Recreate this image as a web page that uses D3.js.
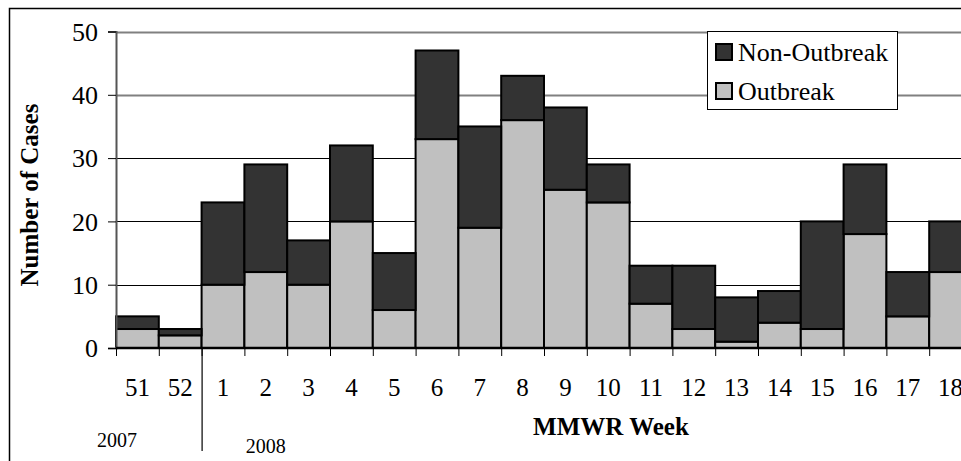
<!DOCTYPE html>
<html><head><meta charset="utf-8">
<script src="https://cdn.jsdelivr.net/npm/d3@7"></script>
<style>body{margin:0;background:#fff}svg{display:block}</style>
</head><body>
<svg id="c" width="961" height="461" font-family="Liberation Serif, Times New Roman, serif"></svg>
<script>
const weeks = ["51","52","1","2","3","4","5","6","7","8","9","10","11","12","13","14","15","16","17","18"];
const outbreak =    [3,2,10,12,10,20,6,33,19,36,25,23,7,3,1,4,3,18,5,12];
const nonOutbreak = [2,1,13,17,7,12,9,14,16,7,13,6,6,10,7,5,17,11,7,8];
const yTicks = [0,10,20,30,40,50];
const seriesNames = ["Non-Outbreak","Outbreak"];
const years = [{label:"2007", at:"51"},{label:"2008", at:"2"}];

const FONT = "Liberation Serif, Times New Roman, serif";
const svg = d3.select("#c");
const x0 = 116, y0 = 348, yTop = 31.5, step = 42.8;
const x = d3.scaleBand().domain(weeks).range([x0, x0 + step*weeks.length]).paddingInner(0).paddingOuter(0);
const y = d3.scaleLinear().domain([0,50]).range([y0, yTop]);
const color = {"Outbreak":"#c0c0c0","Non-Outbreak":"#333333"};

// outer border
svg.append("rect").attr("x",9.5).attr("y",8.5).attr("width",1000).attr("height",1000)
  .attr("fill","none").attr("stroke","#000").attr("stroke-width",1.5);

// gridlines
svg.append("g").selectAll("line").data(yTicks.filter(d=>d>0)).join("line")
  .attr("x1",x0).attr("x2",961).attr("y1",d=>Math.round(y(d))+0.5).attr("y2",d=>Math.round(y(d))+0.5)
  .attr("stroke",d=>d>=40?"#808080":"#000").attr("stroke-width",d=>d>=40?2:1);

// stacked data
const rows = weeks.map((w,i)=>({week:w,"Outbreak":outbreak[i],"Non-Outbreak":nonOutbreak[i]}));
const stack = d3.stack().keys(["Outbreak","Non-Outbreak"])(rows);
svg.append("g").selectAll("g").data(stack).join("g")
  .attr("fill",d=>color[d.key])
  .selectAll("rect").data(d=>d).join("rect")
  .attr("x",d=>x(d.data.week)).attr("width",x.bandwidth())
  .attr("y",d=>y(d[1])).attr("height",d=>y(d[0])-y(d[1]))
  .attr("stroke","#000").attr("stroke-width",2);

// y axis
const yAxis = d3.axisLeft(y).tickValues(yTicks).tickSize(8).tickPadding(10);
const gy = svg.append("g").attr("transform",`translate(${x0},0)`).call(yAxis).attr("font-family",FONT);
gy.select(".domain").attr("stroke","#555").attr("stroke-width",2);
gy.selectAll(".tick line").attr("stroke","#000");
gy.selectAll("text").attr("font-size",26).attr("fill","#000").attr("font-family",FONT).attr("dy","0.34em");

// x axis
svg.append("line").attr("x1",x0).attr("x2",961).attr("y1",y0).attr("y2",y0).attr("stroke","#000").attr("stroke-width",2.5);
const bounds = weeks.map(w=>x(w));
svg.append("g").selectAll("line").data(bounds).join("line")
  .attr("x1",d=>d+0.5).attr("x2",d=>d+0.5).attr("y1",y0).attr("y2",y0+8).attr("stroke","#000").attr("stroke-width",1);
svg.append("g").selectAll("text").data(weeks).join("text")
  .attr("x",d=>x(d)+x.bandwidth()/2).attr("y",396).attr("text-anchor","middle")
  .attr("font-family",FONT).attr("font-size",25).attr("fill","#000").text(d=>d);

// year separator
svg.append("line").attr("x1",x("1")+0.5).attr("x2",x("1")+0.5).attr("y1",y0).attr("y2",451).attr("stroke","#000").attr("stroke-width",1.2);
svg.append("g").selectAll("text").data(years).join("text")
  .attr("x",d=>d.label==="2007"? x(d.at)+1 : x(d.at)+x.bandwidth()/2)
  .attr("y",d=>d.label==="2007"?447:453).attr("text-anchor","middle")
  .attr("font-family",FONT).attr("font-size",20).attr("fill","#000").text(d=>d.label);

// axis titles
svg.append("text").attr("x",611).attr("y",435).attr("text-anchor","middle")
  .attr("font-family",FONT).attr("font-size",25).attr("font-weight","bold").text("MMWR Week");
svg.append("text").attr("transform","translate(38,195) rotate(-90)").attr("text-anchor","middle")
  .attr("font-family",FONT).attr("font-size",25).attr("font-weight","bold").text("Number of Cases");

// legend
const lg = svg.append("g");
lg.append("rect").attr("x",707.5).attr("y",31.5).attr("width",190).attr("height",78)
  .attr("fill","#fff").attr("stroke","#000").attr("stroke-width",1);
const li = lg.selectAll("g.it").data(seriesNames).join("g").attr("class","it")
  .attr("transform",(d,i)=>`translate(0,${i*39})`);
li.append("rect").attr("x",716).attr("y",44).attr("width",16).attr("height",16)
  .attr("fill",d=>color[d]).attr("stroke","#000").attr("stroke-width",2);
li.append("text").attr("x",738).attr("y",61).attr("font-family",FONT).attr("font-size",26).attr("fill","#000").text(d=>d);
</script>
</body></html>
